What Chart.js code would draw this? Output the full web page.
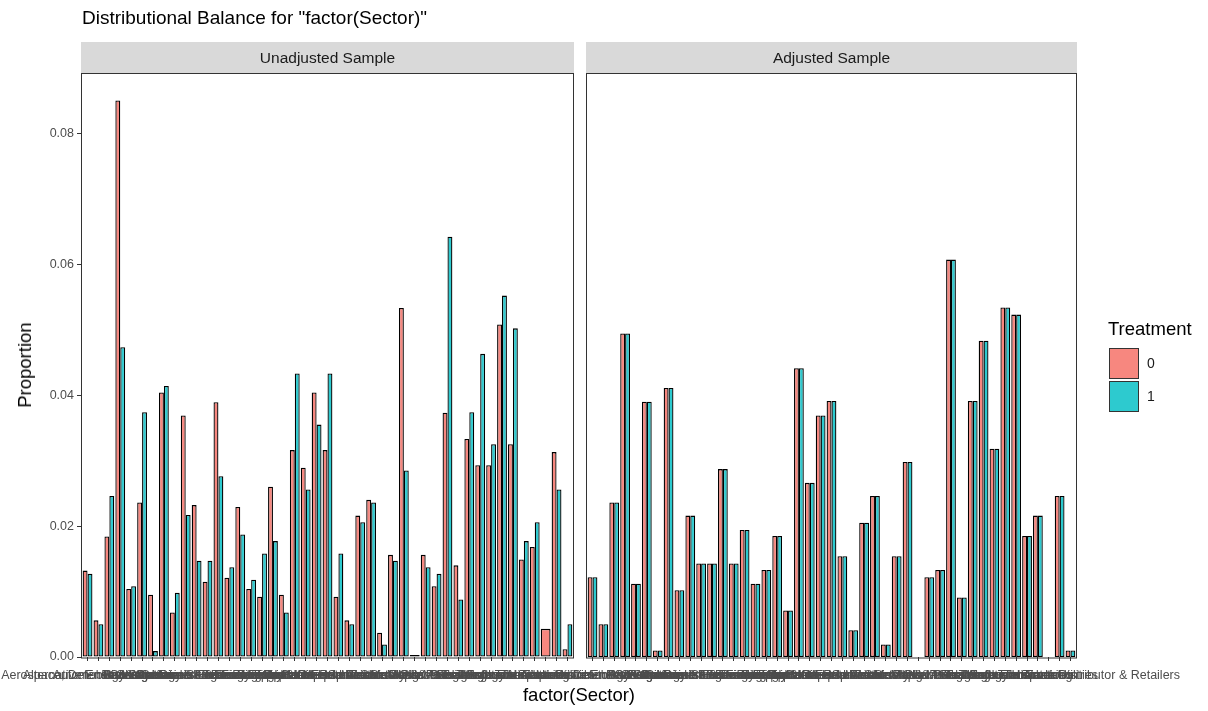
<!DOCTYPE html>
<html>
<head>
<meta charset="utf-8">
<script src="https://cdn.jsdelivr.net/npm/chart.js@4.4.1/dist/chart.umd.min.js"></script>
<style>
  body { margin: 0; background: #fff; font-family: "Liberation Sans", Arial, sans-serif; }
  #wrap { position: relative; width: 1208px; height: 711px; overflow: hidden; }
  canvas { position: absolute; left: 0; top: 0; }
  .txt { position: absolute; white-space: nowrap; }
  .strip { position: absolute; top: 42px; height: 31px; background: #d9d9d9; color: #1a1a1a;
           font-size: 15.5px; line-height: 31px; text-align: center; }
  .key { position: absolute; left: 1109px; width: 28px; height: 29px; border: 1.5px solid #333; }
</style>
</head>
<body>
<div id="wrap">
  <canvas id="left" width="1208" height="711"></canvas>
  <canvas id="right" width="1208" height="711"></canvas>

  <div class="txt" style="left:82px; top:7px; font-size:19px; color:#000;">Distributional Balance for "factor(Sector)"</div>
  <div class="strip" style="left:81px; width:493px;">Unadjusted Sample</div>
  <div class="strip" style="left:586px; width:491px;">Adjusted Sample</div>
  <div class="txt" style="left:25px; top:365px; font-size:18.5px; color:#000; transform:translate(-50%,-50%) rotate(-90deg);">Proportion</div>
  <div class="txt" style="left:579px; top:684px; font-size:18.5px; color:#000; transform:translateX(-50%);">factor(Sector)</div>

  <div class="txt" style="left:1108px; top:318px; font-size:18.5px; color:#000;">Treatment</div>
  <div class="key" style="top:348px; background:#f7877f;"></div>
  <div class="key" style="top:381px; background:#2dcacf;"></div>
  <div class="txt" style="left:1147px; top:355px; font-size:14px; color:#1a1a1a;">0</div>
  <div class="txt" style="left:1147px; top:388px; font-size:14px; color:#1a1a1a;">1</div>
</div>

<script>
const sectors = [
  "Aerospace, Defense & Aviation", "Alternative Energy Sources", "Automobiles & Parts", "Banks",
  "Beverages", "Biotechnology", "Building Materials", "Chemicals", "Commercial Services",
  "Construction & Engineering", "Consumer Electronics", "Containers & Packaging",
  "Diversified Financials", "Education", "Electric Utilities", "Electrical Equipment",
  "Energy Equipment", "Food Products", "Forestry & Paper", "Gas Utilities",
  "Health Care Equipment", "Health Care Services", "Hotels & Restaurants", "Household Products",
  "Industrial Machinery", "Insurance", "Internet Services", "IT Consulting", "Leisure Products",
  "Media", "Metals & Mining", "Oil & Gas", "Paper Packaging", "Pharmaceuticals", "Publishing",
  "Real Estate", "Semiconductors", "Software", "Technology Hardware", "Telecommunications",
  "Tobacco", "Transportation", "Trucking", "Water Utilities", "Wholesale Trade Distributor & Retailers"
];

// unadjusted sample, treatment 0 / 1 (null = no observations)
const unadj0 = [0.0132, 0.0056, 0.0184, 0.0850, 0.0104, 0.0236, 0.0095, 0.0404, 0.0068, 0.0369,
  0.0232, 0.0115, 0.0389, 0.0121, 0.0229, 0.0104, 0.0092, 0.0260, 0.0095, 0.0316,
  0.0289, 0.0404, 0.0316, 0.0092, 0.0056, 0.0216, 0.0240, 0.0037, 0.0156, 0.0533,
  0.0003, 0.0156, 0.0108, 0.0373, 0.0140, 0.0333, 0.0293, 0.0293, 0.0508, 0.0325,
  0.0149, 0.0168, 0.0043, 0.0313, 0.0012];
const unadj1 = [0.0127, 0.0050, 0.0246, 0.0473, 0.0108, 0.0374, 0.0009, 0.0414, 0.0098, 0.0217,
  0.0147, 0.0147, 0.0276, 0.0137, 0.0187, 0.0118, 0.0158, 0.0177, 0.0068, 0.0433,
  0.0256, 0.0355, 0.0433, 0.0158, 0.0050, 0.0206, 0.0236, 0.0019, 0.0147, 0.0285,
  null, 0.0137, 0.0127, 0.0642, 0.0088, 0.0374, 0.0463, 0.0325, 0.0552, 0.0502,
  0.0177, 0.0206, null, 0.0256, 0.0050];

// adjusted sample
const adj0 = [0.0122, 0.0050, 0.0236, 0.0494, 0.0112, 0.0390, 0.0010, 0.0411, 0.0102, 0.0216,
  0.0143, 0.0143, 0.0287, 0.0143, 0.0194, 0.0112, 0.0133, 0.0185, 0.0071, 0.0441,
  0.0266, 0.0369, 0.0391, 0.0154, 0.0041, 0.0205, 0.0246, 0.0019, 0.0154, 0.0298,
  null, 0.0122, 0.0133, 0.0607, 0.0091, 0.0391, 0.0483, 0.0318, 0.0534, 0.0523,
  0.0185, 0.0216, null, 0.0246, 0.0010];
const adj1 = [0.0122, 0.0050, 0.0236, 0.0494, 0.0112, 0.0390, 0.0010, 0.0411, 0.0102, 0.0216,
  0.0143, 0.0143, 0.0287, 0.0143, 0.0194, 0.0112, 0.0133, 0.0185, 0.0071, 0.0441,
  0.0266, 0.0369, 0.0391, 0.0154, 0.0041, 0.0205, 0.0246, 0.0019, 0.0154, 0.0298,
  null, 0.0122, 0.0133, 0.0607, 0.0091, 0.0391, 0.0483, 0.0318, 0.0534, 0.0523,
  0.0185, 0.0216, null, 0.0246, 0.0010];

const yTicks = [0, 0.02, 0.04, 0.06, 0.08];
const yMax = 0.0892;

const PINK = "#f7877f";
const TEAL = "#2dcacf";
const EDGE = "#000";
const FONT = "'Liberation Sans', Arial, sans-serif";

const panelBorder = {
  id: "panelBorder",
  afterDraw(chart) {
    const a = chart.chartArea;
    const ctx = chart.ctx;
    ctx.save();
    ctx.strokeStyle = "#333";
    ctx.lineWidth = 1;
    ctx.strokeRect(a.left + 0.5, a.top + 0.5, a.right - a.left - 1, a.bottom - a.top + 0.5);
    ctx.restore();
  },
};

function toPoints(arr) {
  return arr.map((v, i) => ({ x: i + 1, y: v }));
}

function barSet(label, arr, color) {
  return {
    label,
    data: toPoints(arr),
    backgroundColor: color,
    borderColor: EDGE,
    borderWidth: 1.3,
    borderSkipped: false,
    skipNull: true,
    categoryPercentage: 0.9,
    barPercentage: 1.0,
  };
}

function makePanel(id, d0, d1, padLeft, padRight, showY) {
  return new Chart(document.getElementById(id), {
    type: "bar",
    data: { datasets: [barSet("0", d0, PINK), barSet("1", d1, TEAL)] },
    options: {
      responsive: false,
      animation: false,
      devicePixelRatio: 1,
      layout: { padding: { left: padLeft, right: padRight, top: 73, bottom: 0 } },
      plugins: { legend: { display: false }, tooltip: { enabled: false } },
      scales: {
        x: {
          type: "linear",
          min: 0.4,
          max: sectors.length + 0.6,
          offset: false,
          afterBuildTicks: (axis) => {
            axis.ticks = sectors.map((s, i) => ({ value: i + 1 }));
          },
          afterFit: (axis) => {
            axis.height = 54;
            axis.paddingLeft = 0;
            axis.paddingRight = 0;
          },
          ticks: {
            autoSkip: false,
            maxRotation: 0,
            minRotation: 0,
            padding: 7,
            color: "#4d4d4d",
            font: { family: FONT, size: 12.5 },
            callback: (v) => sectors[Math.round(v) - 1],
          },
          grid: { drawOnChartArea: false, offset: false, tickLength: 4, color: "#333" },
          border: { display: false },
        },
        y: {
          display: showY,
          min: 0,
          max: yMax,
          afterBuildTicks: (axis) => {
            axis.ticks = yTicks.map((v) => ({ value: v }));
          },
          afterFit: (axis) => {
            if (showY) axis.width = 81;
          },
          ticks: {
            padding: 3,
            color: "#4d4d4d",
            font: { family: FONT, size: 12.5 },
            callback: (v) => v.toFixed(2),
          },
          grid: { drawOnChartArea: false, tickLength: 4, color: "#333" },
          border: { display: false },
        },
      },
    },
    plugins: [panelBorder],
  });
}

makePanel("left", unadj0, unadj1, 0, 1208 - 574, true);
makePanel("right", adj0, adj1, 586, 1208 - 1077, false);
</script>
</body>
</html>
